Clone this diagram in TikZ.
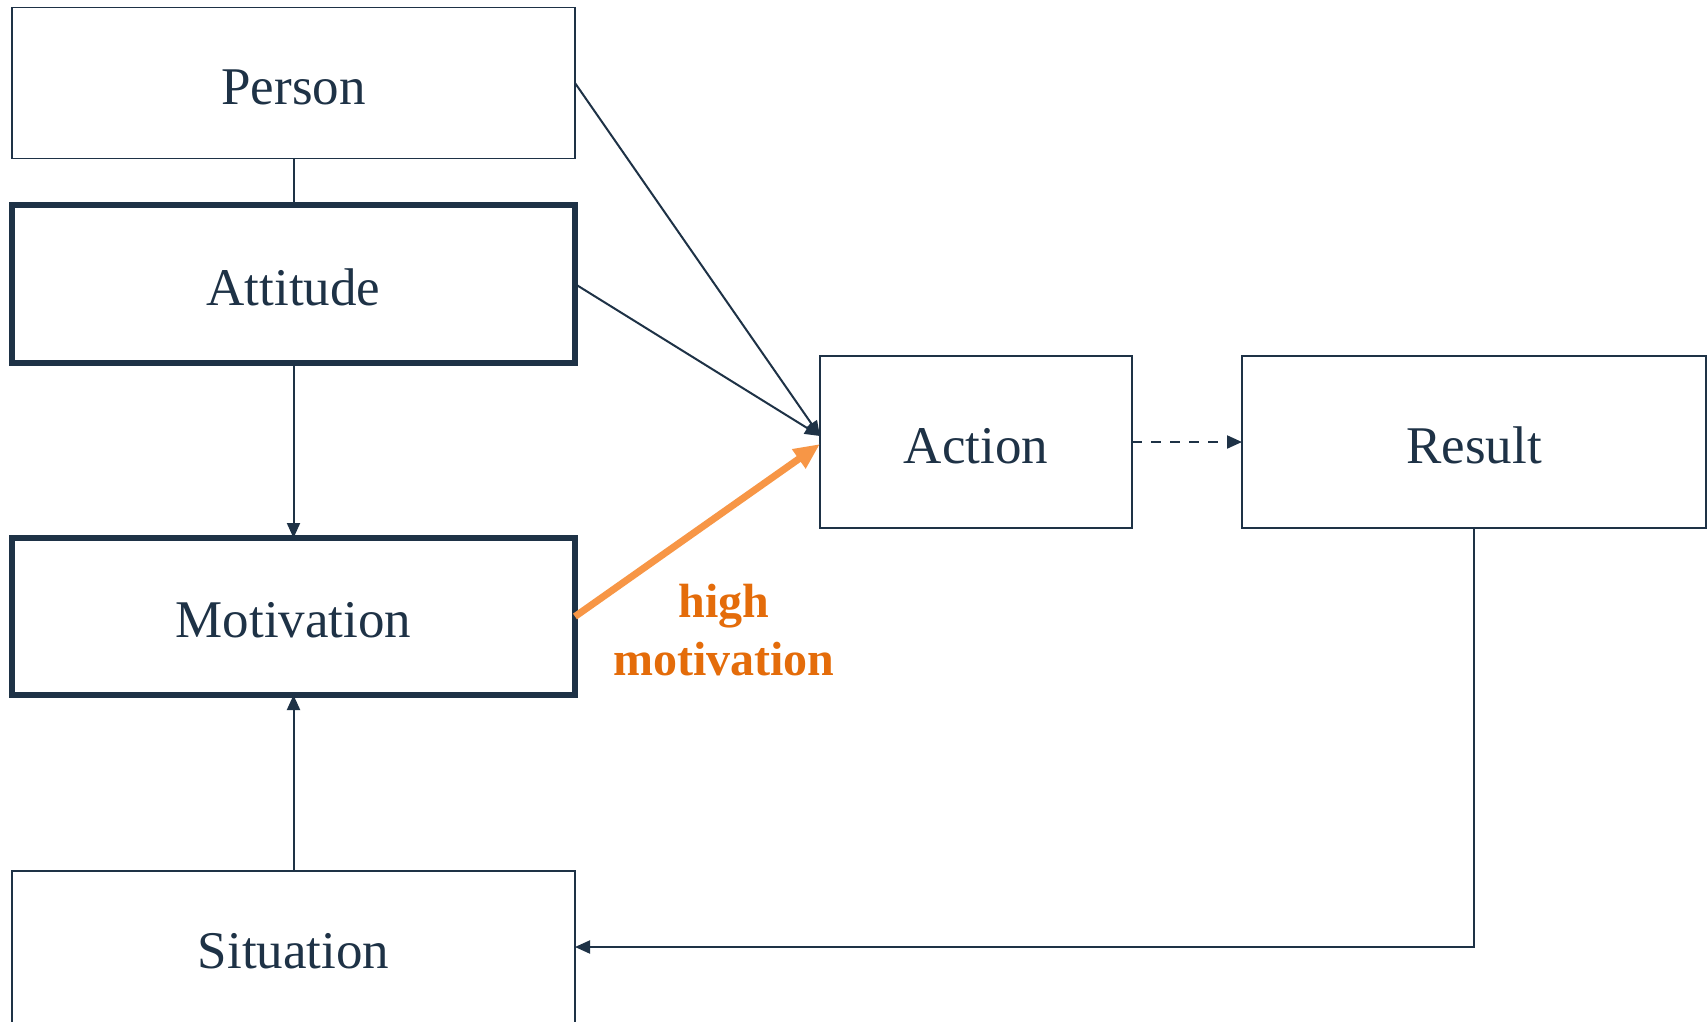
\documentclass[tikz,border=0pt]{standalone}
\usepackage{fontspec}
\setmainfont{Liberation Serif}
\usetikzlibrary{arrows.meta}
\definecolor{navy}{HTML}{1E3246}
\definecolor{orarrow}{HTML}{F79646}
\definecolor{ortext}{HTML}{E46C0A}
\tikzset{
  box/.style={draw=navy, line width=1.8pt, rectangle, inner sep=0pt, outer sep=0pt,
    text=navy, font=\fontsize{53}{60}\selectfont, text height=42pt, text depth=0pt},
  thickbox/.style={box, line width=5.5pt},
  conn/.style={draw=navy, line width=2pt},
  tip/.style={-{Triangle[length=15pt,width=13pt]}},
}
\begin{document}
\begin{tikzpicture}[x=1pt,y=-1pt]
\useasboundingbox (0,0) rectangle (1708,1021);
\clip (0,0) rectangle (1708,1021);
\fill[white] (0,0) rectangle (1708,1021);
\node[box, minimum width=563pt, minimum height=151pt] (person) at (293.5,83) {Person};
\node[thickbox, minimum width=563pt, minimum height=158pt] (att) at (293.5,284) {Attitude};
\node[thickbox, minimum width=563pt, minimum height=157pt] (mot) at (293.5,616.5) {Motivation};
\node[box, minimum width=563pt, minimum height=152pt] (sit) at (293.5,947) {Situation};
\node[box, minimum width=312pt, minimum height=172pt] (act) at (976,442) {Action};
\node[box, minimum width=464pt, minimum height=172pt] (res) at (1474,442) {Result};
\node[text=ortext, font=\bfseries\fontsize{48}{58}\selectfont, align=center] (lbl) at (724,630) {high\\motivation};

\draw[conn] (person.south) -- (att.north);
\draw[conn, tip] (att.south) -- (mot.north);
\draw[conn, tip] (sit.north) -- (mot.south);
\draw[conn, tip] (person.east) -- ([yshift=6pt]act.west);
\draw[conn, tip] (att.east) -- ([yshift=6pt]act.west);
\draw[orarrow, line width=7pt, -{Triangle[length=26pt,width=22pt]}] (mot.east) -- ([yshift=-2pt]act.west);
\draw[conn, dash pattern=on 10pt off 9pt, tip] (act.east) -- (res.west);
\draw[conn, tip] (res.south) |- (sit.east);
\end{tikzpicture}
\end{document}
